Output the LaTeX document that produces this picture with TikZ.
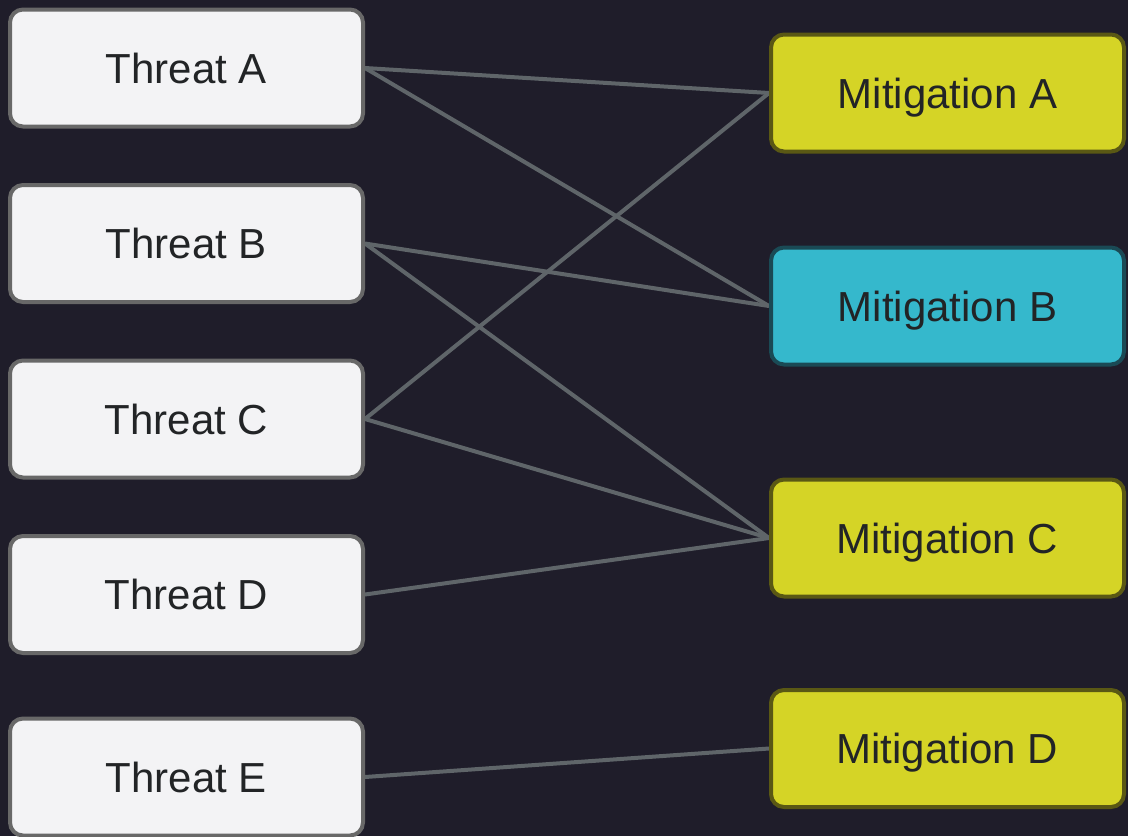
\documentclass[tikz,border=0pt]{standalone}
\usepackage{fontspec}
\setmainfont{Liberation Sans}
\pgfdeclarelayer{canvas}
\pgfdeclarelayer{links}
\pgfsetlayers{canvas,links,main}
\definecolor{bgdark}{HTML}{1F1D2A}
\definecolor{threatfill}{HTML}{F3F3F5}
\definecolor{threatline}{HTML}{686868}
\definecolor{mityellow}{HTML}{D5D426}
\definecolor{mityellowline}{HTML}{5A5814}
\definecolor{mitcyan}{HTML}{35B8CC}
\definecolor{mitcyanline}{HTML}{1A4A55}
\definecolor{linkgray}{HTML}{5F6569}
\definecolor{textdark}{HTML}{222426}
\tikzset{
  box/.style={rounded corners=13pt, line width=4pt, minimum width=353pt,
    minimum height=117pt, inner sep=0pt, text=textdark,
    text height=30pt, text depth=0pt,
    font=\fontsize{42}{48}\selectfont},
  threat/.style={box, draw=threatline, fill=threatfill},
  mitig/.style={box, draw=mityellowline, fill=mityellow},
  mitigb/.style={box, draw=mitcyanline, fill=mitcyan},
  link/.style={draw=linkgray, line width=4pt}
}
\begin{document}
\begin{tikzpicture}[x=1pt,y=-1pt]
  \begin{pgfonlayer}{canvas}
    \fill[bgdark] (0,0) rectangle (1128,836);
  \end{pgfonlayer}
  \useasboundingbox (0,0) rectangle (1128,836);

  % threats (left column)
  \node[threat] (ta) at (186.5,68) {Threat A};
  \node[threat] (tb) at (186.5,243.5) {Threat B};
  \node[threat] (tc) at (186.5,419) {Threat C};
  \node[threat] (td) at (186.5,594.5) {Threat D};
  \node[threat] (te) at (186.5,777) {Threat E};

  % mitigations (right column)
  \node[mitig]  (ma) at (947.5,93) {Mitigation A};
  \node[mitigb] (mb) at (947.5,306) {Mitigation B};
  \node[mitig]  (mc) at (947.5,538) {Mitigation C};
  \node[mitig]  (md) at (947.5,748.5) {Mitigation D};

  % links between threats and mitigations
  \begin{pgfonlayer}{links}
    \draw[link] (ta.east) -- (ma.west);
    \draw[link] (ta.east) -- (mb.west);
    \draw[link] (tb.east) -- (mb.west);
    \draw[link] (tb.east) -- (mc.west);
    \draw[link] (tc.east) -- (ma.west);
    \draw[link] (tc.east) -- (mc.west);
    \draw[link] (td.east) -- (mc.west);
    \draw[link] (te.east) -- (md.west);
  \end{pgfonlayer}
\end{tikzpicture}
\end{document}
